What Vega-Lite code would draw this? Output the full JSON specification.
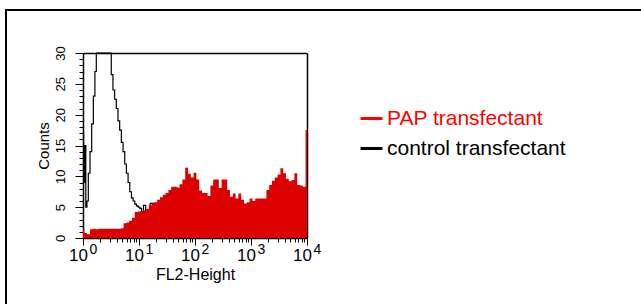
{
  "$schema": "https://vega.github.io/schema/vega-lite/v6.json",
  "autosize": {"type": "none"},
  "padding": {"left": 6, "top": 10, "right": -2, "bottom": -2},
  "width": 637,
  "height": 296,
  "background": "white",
  "config": {
    "view": {"stroke": "black", "strokeWidth": 2},
    "axis": {"grid": false, "domainColor": "black", "tickColor": "black", "labelColor": "black", "titleColor": "black", "labelFont": "Liberation Sans", "titleFont": "Liberation Sans", "titleFontWeight": "normal", "domainWidth": 1.5, "tickWidth": 1, "labelFlush": false, "labelOverlap": false}
  },
  "data": {"values": [
    {"series": "PAP transfectant", "x": 1, "count": 1.5},
    {"series": "PAP transfectant", "x": 1.122, "count": 0.8},
    {"series": "PAP transfectant", "x": 1.259, "count": 0.6},
    {"series": "PAP transfectant", "x": 1.413, "count": 1.4},
    {"series": "PAP transfectant", "x": 1.585, "count": 1.5},
    {"series": "PAP transfectant", "x": 1.778, "count": 1.4},
    {"series": "PAP transfectant", "x": 1.995, "count": 1.5},
    {"series": "PAP transfectant", "x": 2.239, "count": 1.5},
    {"series": "PAP transfectant", "x": 2.512, "count": 1.5},
    {"series": "PAP transfectant", "x": 2.818, "count": 1.5},
    {"series": "PAP transfectant", "x": 3.162, "count": 1.5},
    {"series": "PAP transfectant", "x": 3.548, "count": 1.5},
    {"series": "PAP transfectant", "x": 3.981, "count": 1.5},
    {"series": "PAP transfectant", "x": 4.467, "count": 1.5},
    {"series": "PAP transfectant", "x": 5.012, "count": 1.6},
    {"series": "PAP transfectant", "x": 5.623, "count": 2.4},
    {"series": "PAP transfectant", "x": 6.31, "count": 2.5},
    {"series": "PAP transfectant", "x": 7.079, "count": 2.8},
    {"series": "PAP transfectant", "x": 7.943, "count": 3.3},
    {"series": "PAP transfectant", "x": 8.913, "count": 4.2},
    {"series": "PAP transfectant", "x": 10, "count": 4.3},
    {"series": "PAP transfectant", "x": 11.22, "count": 4.3},
    {"series": "PAP transfectant", "x": 12.59, "count": 4.5},
    {"series": "PAP transfectant", "x": 14.13, "count": 4.7},
    {"series": "PAP transfectant", "x": 15.85, "count": 5.3},
    {"series": "PAP transfectant", "x": 17.78, "count": 5.6},
    {"series": "PAP transfectant", "x": 19.95, "count": 5.8},
    {"series": "PAP transfectant", "x": 22.39, "count": 6.2},
    {"series": "PAP transfectant", "x": 25.12, "count": 6.6},
    {"series": "PAP transfectant", "x": 28.18, "count": 7.0},
    {"series": "PAP transfectant", "x": 31.62, "count": 7.3},
    {"series": "PAP transfectant", "x": 35.48, "count": 7.8},
    {"series": "PAP transfectant", "x": 39.81, "count": 8.3},
    {"series": "PAP transfectant", "x": 44.67, "count": 8.3},
    {"series": "PAP transfectant", "x": 50.12, "count": 8.2},
    {"series": "PAP transfectant", "x": 56.23, "count": 8.7},
    {"series": "PAP transfectant", "x": 63.1, "count": 9.5},
    {"series": "PAP transfectant", "x": 70.79, "count": 11.4},
    {"series": "PAP transfectant", "x": 79.43, "count": 10.4},
    {"series": "PAP transfectant", "x": 89.13, "count": 9.8},
    {"series": "PAP transfectant", "x": 100, "count": 10.6},
    {"series": "PAP transfectant", "x": 112.2, "count": 9.5},
    {"series": "PAP transfectant", "x": 125.9, "count": 7.7},
    {"series": "PAP transfectant", "x": 141.3, "count": 7.3},
    {"series": "PAP transfectant", "x": 158.5, "count": 7.3},
    {"series": "PAP transfectant", "x": 177.8, "count": 6.8},
    {"series": "PAP transfectant", "x": 199.5, "count": 8.5},
    {"series": "PAP transfectant", "x": 223.9, "count": 9.5},
    {"series": "PAP transfectant", "x": 251.2, "count": 9.5},
    {"series": "PAP transfectant", "x": 281.8, "count": 8.1},
    {"series": "PAP transfectant", "x": 316.2, "count": 9.5},
    {"series": "PAP transfectant", "x": 354.8, "count": 9.5},
    {"series": "PAP transfectant", "x": 398.1, "count": 7.8},
    {"series": "PAP transfectant", "x": 446.7, "count": 6.7},
    {"series": "PAP transfectant", "x": 501.2, "count": 7.2},
    {"series": "PAP transfectant", "x": 562.3, "count": 6.4},
    {"series": "PAP transfectant", "x": 631, "count": 7.2},
    {"series": "PAP transfectant", "x": 707.9, "count": 6.2},
    {"series": "PAP transfectant", "x": 794.3, "count": 5.6},
    {"series": "PAP transfectant", "x": 891.3, "count": 5.8},
    {"series": "PAP transfectant", "x": 1000, "count": 6.4},
    {"series": "PAP transfectant", "x": 1122, "count": 6.0},
    {"series": "PAP transfectant", "x": 1259, "count": 6.4},
    {"series": "PAP transfectant", "x": 1413, "count": 6.4},
    {"series": "PAP transfectant", "x": 1585, "count": 6.4},
    {"series": "PAP transfectant", "x": 1778, "count": 6.4},
    {"series": "PAP transfectant", "x": 1995, "count": 7.8},
    {"series": "PAP transfectant", "x": 2239, "count": 8.6},
    {"series": "PAP transfectant", "x": 2512, "count": 9.3},
    {"series": "PAP transfectant", "x": 2818, "count": 9.8},
    {"series": "PAP transfectant", "x": 3162, "count": 10.3},
    {"series": "PAP transfectant", "x": 3548, "count": 11.3},
    {"series": "PAP transfectant", "x": 3981, "count": 10.5},
    {"series": "PAP transfectant", "x": 4467, "count": 9.6},
    {"series": "PAP transfectant", "x": 5012, "count": 9.2},
    {"series": "PAP transfectant", "x": 5623, "count": 9.4},
    {"series": "PAP transfectant", "x": 6310, "count": 10.5},
    {"series": "PAP transfectant", "x": 7079, "count": 8.6},
    {"series": "PAP transfectant", "x": 7943, "count": 8.5},
    {"series": "PAP transfectant", "x": 8913, "count": 8.3},
    {"series": "PAP transfectant", "x": 10000, "count": 17.5},
    {"series": "control transfectant", "x": 1, "count": 17},
    {"series": "control transfectant", "x": 1.047, "count": 9},
    {"series": "control transfectant", "x": 1.096, "count": 15},
    {"series": "control transfectant", "x": 1.148, "count": 5},
    {"series": "control transfectant", "x": 1.202, "count": 6},
    {"series": "control transfectant", "x": 1.288, "count": 10.5},
    {"series": "control transfectant", "x": 1.38, "count": 14},
    {"series": "control transfectant", "x": 1.479, "count": 18.5},
    {"series": "control transfectant", "x": 1.585, "count": 23},
    {"series": "control transfectant", "x": 1.679, "count": 27},
    {"series": "control transfectant", "x": 1.778, "count": 30},
    {"series": "control transfectant", "x": 1.995, "count": 30},
    {"series": "control transfectant", "x": 2.239, "count": 30},
    {"series": "control transfectant", "x": 2.512, "count": 30},
    {"series": "control transfectant", "x": 2.818, "count": 30},
    {"series": "control transfectant", "x": 3.09, "count": 30},
    {"series": "control transfectant", "x": 3.311, "count": 26.5},
    {"series": "control transfectant", "x": 3.548, "count": 24},
    {"series": "control transfectant", "x": 3.802, "count": 22.5},
    {"series": "control transfectant", "x": 4.074, "count": 21},
    {"series": "control transfectant", "x": 4.365, "count": 19},
    {"series": "control transfectant", "x": 4.677, "count": 17.5},
    {"series": "control transfectant", "x": 5.012, "count": 15.5},
    {"series": "control transfectant", "x": 5.37, "count": 14},
    {"series": "control transfectant", "x": 5.754, "count": 12},
    {"series": "control transfectant", "x": 6.166, "count": 10.5},
    {"series": "control transfectant", "x": 6.607, "count": 9},
    {"series": "control transfectant", "x": 7.079, "count": 7.5},
    {"series": "control transfectant", "x": 7.586, "count": 6.5},
    {"series": "control transfectant", "x": 8.128, "count": 6},
    {"series": "control transfectant", "x": 8.71, "count": 5.5},
    {"series": "control transfectant", "x": 9.333, "count": 5.2},
    {"series": "control transfectant", "x": 10, "count": 5},
    {"series": "control transfectant", "x": 10.72, "count": 4.8},
    {"series": "control transfectant", "x": 11.48, "count": 4.3},
    {"series": "control transfectant", "x": 12.59, "count": 5.3},
    {"series": "control transfectant", "x": 13.8, "count": 4.3},
    {"series": "control transfectant", "x": 15.14, "count": 4.3},
    {"series": "control transfectant", "x": 16.6, "count": 5.6},
    {"series": "control transfectant", "x": 18.2, "count": 5.6},
    {"series": "control transfectant", "x": 19.95, "count": 5.5},
    {"series": "control transfectant", "x": 22.39, "count": 4.5},
    {"series": "control transfectant", "x": 25.12, "count": 3.5},
    {"series": "control transfectant", "x": 31.62, "count": 2.5},
    {"series": "control transfectant", "x": 39.81, "count": 2},
    {"series": "control transfectant", "x": 63.1, "count": 1.2},
    {"series": "control transfectant", "x": 100, "count": 0.8},
    {"series": "control transfectant", "x": 316.2, "count": 0.3},
    {"series": "control transfectant", "x": 1000, "count": 0.2},
    {"series": "control transfectant", "x": 3162, "count": 0.1},
    {"series": "control transfectant", "x": 10000, "count": 0}
  ]},
  "resolve": {"axis": {"x": "independent", "y": "independent"}, "scale": {"color": "independent"}},
  "layer": [
    {
      "transform": [{"filter": "datum.series === 'control transfectant'"}],
      "mark": {"type": "line", "interpolate": "step", "strokeWidth": 1.2},
      "encoding": {
        "x": {"field": "x", "type": "quantitative",
          "scale": {"type": "log", "domain": [1, 10000], "range": [77, 301], "nice": false},
          "axis": {"orient": "bottom", "offset": -68, "values": [1, 10, 100, 1000, 10000], "labelExpr": "'10'", "labelOffset": -5, "tickSize": 7, "labelFontSize": 17, "labelPadding": 2, "domain": true, "title": "FL2-Height", "titleFontSize": 16, "titlePadding": 3}},
        "y": {"field": "count", "type": "quantitative",
          "scale": {"domain": [0, 30], "range": [228, 43], "nice": false, "zero": true},
          "axis": {"orient": "left", "offset": -77, "values": [0, 5, 10, 15, 20, 25, 30], "tickSize": 8, "labelAngle": -90, "labelFontSize": 13, "labelPadding": 8, "domain": true, "title": "Counts", "titleFontSize": 15, "titlePadding": 3}},
        "color": {"field": "series", "type": "nominal",
          "scale": {"domain": ["PAP transfectant", "control transfectant"], "range": ["#ff0000", "#000000"]},
          "legend": {"orient": "none", "legendX": 353, "legendY": 96, "title": null, "symbolType": "stroke", "symbolSize": 480, "symbolStrokeWidth": 3, "labelFontSize": 21, "labelFont": "Liberation Sans", "labelOffset": 3, "labelLimit": 400, "rowPadding": 7, "padding": 0,
            "encode": {"labels": {"update": {"fill": {"signal": "datum.value === 'PAP transfectant' ? '#ff0000' : '#000000'"}}}}}}
      }
    },
    {
      "transform": [{"filter": "datum.series === 'PAP transfectant'"}],
      "mark": {"type": "area", "interpolate": "step", "color": "#dd0000"},
      "encoding": {
        "x": {"field": "x", "type": "quantitative",
          "scale": {"type": "log", "domain": [1, 10000], "range": [77, 301], "nice": false},
          "axis": {"orient": "bottom", "offset": -68, "values": [1, 2, 3, 4, 5, 6, 7, 8, 9, 10, 20, 30, 40, 50, 60, 70, 80, 90, 100, 200, 300, 400, 500, 600, 700, 800, 900, 1000, 2000, 3000, 4000, 5000, 6000, 7000, 8000, 9000, 10000],
            "labelExpr": "abs(log(datum.value)/LN10 - round(log(datum.value)/LN10)) < 0.001 ? '' + round(log(datum.value)/LN10) : ''",
            "labelOffset": 10, "labelPadding": 0, "labelFontSize": 14, "tickSize": 4, "domain": false, "title": null}},
        "y": {"field": "count", "type": "quantitative",
          "scale": {"domain": [0, 30], "range": [228, 43], "nice": false, "zero": true},
          "axis": {"orient": "left", "offset": -77, "values": [0, 1, 2, 3, 4, 5, 6, 7, 8, 9, 10, 11, 12, 13, 14, 15, 16, 17, 18, 19, 20, 21, 22, 23, 24, 25, 26, 27, 28, 29, 30], "tickSize": 4, "labels": false, "domain": false, "title": null}}
      }
    },
    {
      "mark": {"type": "point", "opacity": 0},
      "encoding": {
        "x": {"field": "x", "type": "quantitative",
          "scale": {"type": "log", "domain": [1, 10000], "range": [77, 301], "nice": false},
          "axis": {"orient": "top", "offset": -43, "ticks": false, "labels": false, "domain": true, "title": null}},
        "y": {"field": "count", "type": "quantitative",
          "scale": {"domain": [0, 30], "range": [228, 43], "nice": false, "zero": true},
          "axis": {"orient": "right", "offset": -336, "ticks": false, "labels": false, "domain": true, "title": null}}
      }
    }
  ]
}
